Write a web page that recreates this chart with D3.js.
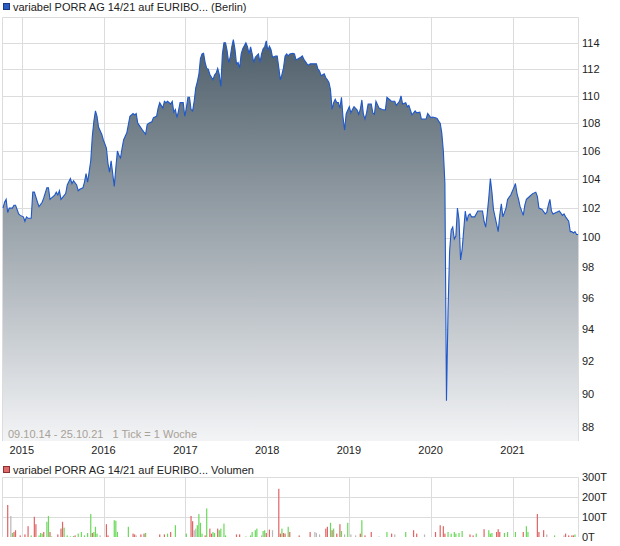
<!DOCTYPE html>
<html lang="de">
<head>
<meta charset="UTF-8">
<title>variabel PORR AG 14/21</title>
<style>
  html, body { margin: 0; background: #fff; }
  svg { display: block; font-family: "Liberation Sans", Arial, sans-serif; }
</style>
</head>
<body>
<svg id="chart" width="620" height="546"></svg>
<script src="https://cdn.jsdelivr.net/npm/d3@7"></script>
<script>
  // Zeitraum, 1 Tick = 1 Woche
  var startDate = new Date(2014, 9, 9)
  var endDate = new Date(2021, 9, 25)

  // [Woche seit Start, Kurs]
  var pricePts = [
    [0,102.0],[1,102.4],[2,102.6],[3,101.7],[4,102.0],[6,102.0],[7,102.2],[8,102.2],[9,101.9],[10,101.6],
    [11,101.5],[13,101.4],[14,101.1],[15,101.4],[16,101.3],[18,101.3],[19,103.1],[20,103.1],[22,102.4],[23,102.1],
    [25,102.4],[26,102.7],[28,103.4],[29,103.4],[30,102.6],[31,102.7],[33,102.9],[34,103.1],[35,102.9],[36,103.2],
    [37,102.6],[40,103.0],[41,103.6],[43,104.05],[44,103.7],[45,103.9],[47,103.6],[48,103.2],[49,103.3],[51,103.4],
    [52,103.8],[53,104.4],[54,103.8],[56,105.3],[57,107.05],[58,108.15],[59,108.9],[60,108.5],[61,107.7],[63,107.2],
    [64,106.8],[66,106.2],[67,105.1],[68,104.5],[69,105.3],[70,104.4],[71,103.5],[72,104.8],[73,106.0],[74,105.7],
    [75,105.5],[76,106.2],[77,106.8],[79,107.3],[80,107.9],[81,108.5],[83,108.7],[84,108.6],[85,108.7],[86,108.0],
    [89,107.5],[91,107.2],[92,107.9],[93,108.0],[95,108.1],[96,108.4],[98,108.5],[99,109.1],[100,109.5],[102,109.1],
    [103,109.6],[104,109.5],[105,109.6],[107,109.4],[108,109.6],[109,108.8],[110,109.0],[111,108.4],[112,108.9],[113,109.5],
    [115,109.5],[116,108.5],[117,109.1],[118,109.9],[119,109.9],[120,109.0],[121,108.9],[122,109.6],[123,110.6],[124,111.05],
    [125,111.6],[126,112.8],[127,113.15],[128,113.2],[129,112.5],[130,112.05],[131,112.0],[132,111.6],[134,111.2],[135,111.55],
    [136,111.7],[137,112.05],[138,111.6],[139,110.7],[140,113.15],[141,114.0],[142,114.0],[143,113.4],[144,112.5],[145,112.9],
    [146,113.7],[147,114.25],[148,113.55],[149,112.4],[150,112.5],[151,112.1],[152,113.15],[153,113.55],[155,114.0],[156,113.7],
    [157,113.15],[158,113.7],[159,113.15],[160,112.5],[161,112.9],[163,113.15],[164,112.5],[165,113.15],[166,113.55],[167,113.7],
    [168,114.15],[169,113.4],[170,113.75],[171,113.5],[172,112.9],[174,113.0],[175,113.0],[176,112.1],[177,111.2],[178,111.6],
    [179,112.1],[180,113.0],[181,113.15],[182,113.0],[183,113.15],[185,113.2],[186,113.15],[187,112.7],[190,112.9],[191,113.0],
    [192,112.75],[194,112.4],[195,112.3],[196,112.4],[197,112.4],[200,112.4],[201,112.0],[202,111.85],[203,111.5],[205,111.65],
    [206,111.35],[207,111.2],[208,111.0],[209,110.45],[210,109.0],[211,109.5],[212,109.75],[213,109.5],[214,109.5],[215,109.1],
    [216,109.9],[217,108.4],[218,107.5],[219,108.7],[221,109.2],[222,108.75],[223,109.0],[224,109.2],[226,108.95],[227,108.65],
    [228,109.0],[229,109.7],[230,108.65],[231,108.3],[232,108.75],[233,109.4],[235,109.4],[236,108.75],[237,108.65],[238,109.6],
    [240,109.1],[242,109.0],[244,108.95],[245,109.9],[247,109.7],[248,109.6],[250,109.6],[251,109.3],[253,109.6],[254,110.0],
    [255,109.4],[257,109.5],[258,109.2],[259,109.3],[260,108.95],[261,108.6],[263,108.9],[264,108.75],[266,108.8],[267,108.3],
    [270,108.3],[271,108.7],[273,108.4],[274,108.45],[276,108.4],[277,108.35],[278,108.15],[279,108.0],[280,107.3],[281,106.0],
    [282,103.7],[283,89.6],[284,95.2],[285,99.1],[286,100.5],[287,100.7],[288,99.9],[289,100.1],[290,102.0],[291,101.2],
    [292,98.5],[293,99.2],[294,100.5],[295,101.8],[296,101.1],[297,101.5],[298,101.6],[299,101.4],[301,101.4],[303,101.8],
    [306,101.8],[307,101.1],[308,100.7],[309,101.6],[310,102.7],[311,104.05],[312,103.1],[313,101.9],[315,100.9],[316,100.4],
    [317,101.5],[318,102.3],[319,101.4],[321,102.0],[322,102.6],[324,102.9],[326,103.4],[327,103.7],[328,103.0],[329,102.6],
    [330,102.1],[332,101.5],[333,102.2],[334,102.6],[336,102.8],[338,103.0],[340,103.1],[341,102.8],[342,102.0],[344,101.9],
    [346,101.6],[347,101.7],[348,102.2],[349,102.6],[350,101.8],[351,101.6],[353,101.7],[355,101.8],[357,101.5],[358,101.6],
    [359,101.4],[361,101.1],[362,100.4],[363,100.4],[364,100.3],[365,100.4],[366,100.2],[367,100.2]
  ]

  // [Woche, Volumen in T, Richtung u/d/n]
  var volumePts = [
    [3,160,'d'],[5,105,'n'],[6,20,'u'],[7,25,'d'],[8,34,'d'],[11,8,'d'],[14,13,'d'],[16,54,'d'],[18,8,'u'],[20,101,'d'],
    [21,64,'d'],[23,8,'u'],[24,20,'u'],[25,17,'u'],[26,25,'d'],[28,76,'u'],[29,105,'u'],[30,25,'d'],[31,3,'u'],[35,13,'d'],
    [37,42,'d'],[38,76,'d'],[39,47,'u'],[41,8,'u'],[43,3,'u'],[45,5,'u'],[46,8,'d'],[48,17,'u'],[50,25,'u'],[52,8,'u'],
    [54,20,'u'],[56,115,'u'],[57,20,'d'],[58,25,'u'],[59,51,'u'],[60,17,'u'],[62,8,'n'],[66,64,'d'],[67,8,'d'],[71,84,'u'],
    [72,81,'u'],[73,25,'u'],[80,51,'u'],[83,17,'d'],[84,13,'d'],[85,8,'n'],[88,13,'d'],[90,17,'d'],[91,20,'u'],[100,13,'d'],
    [103,13,'d'],[105,17,'u'],[107,25,'d'],[110,59,'u'],[117,17,'u'],[120,105,'d'],[121,79,'d'],[122,34,'n'],[123,42,'n'],[124,59,'u'],
    [125,115,'u'],[126,71,'u'],[127,17,'u'],[129,8,'d'],[130,143,'u'],[132,42,'d'],[133,17,'d'],[134,25,'u'],[135,20,'u'],[137,42,'d'],
    [138,34,'u'],[139,42,'u'],[141,67,'u'],[142,8,'u'],[149,13,'d'],[151,13,'d'],[155,3,'u'],[158,8,'u'],[159,25,'u'],[161,34,'u'],
    [162,42,'u'],[165,8,'n'],[166,30,'u'],[167,34,'u'],[168,20,'d'],[170,37,'d'],[172,34,'n'],[176,241,'d'],[177,17,'d'],[178,42,'u'],
    [179,20,'d'],[180,17,'d'],[182,51,'u'],[183,25,'d'],[189,8,'d'],[196,25,'d'],[199,25,'n'],[200,20,'n'],[202,13,'n'],[206,42,'d'],
    [207,51,'d'],[209,71,'u'],[210,34,'d'],[211,42,'u'],[213,17,'d'],[215,64,'d'],[216,30,'u'],[218,13,'n'],[220,71,'u'],[222,13,'n'],
    [225,8,'n'],[228,17,'d'],[229,84,'u'],[231,8,'d'],[235,25,'d'],[240,3,'n'],[245,25,'u'],[248,17,'d'],[250,13,'n'],[257,25,'u'],
    [262,34,'d'],[264,17,'d'],[269,13,'n'],[276,25,'d'],[279,59,'d'],[281,54,'d'],[282,17,'d'],[284,25,'u'],[286,17,'u'],[288,25,'u'],
    [289,17,'u'],[291,20,'u'],[293,30,'u'],[298,13,'d'],[300,8,'d'],[302,17,'u'],[307,39,'d'],[310,34,'u'],[311,17,'u'],[312,20,'u'],
    [315,25,'d'],[316,39,'d'],[317,25,'d'],[320,20,'u'],[322,25,'u'],[327,25,'u'],[332,25,'d'],[334,54,'u'],[335,25,'u'],[341,115,'d'],
    [342,25,'d'],[345,34,'d'],[347,13,'n'],[352,8,'u'],[358,8,'n'],[359,17,'d'],[361,8,'d'],[363,8,'d'],[364,8,'d'],[365,13,'u']
  ]

  var priceTicks = [88, 90, 92, 94, 96, 98, 100, 102, 104, 106, 108, 110, 112, 114]
  var yearTicks = [2015, 2016, 2017, 2018, 2019, 2020, 2021]
  var volumeTicks = [0, 100, 200, 300]

  var title = 'variabel PORR AG 14/21 auf EURIBO... (Berlin)'
  var volTitle = 'variabel PORR AG 14/21 auf EURIBO... Volumen'
  var rangeText = '09.10.14 - 25.10.21   1 Tick = 1 Woche'

  function weekDate(w) {
    return d3.timeDay.offset(startDate, w * 7)
  }

  var svg = d3.select('#chart')
  var plotLeft = 3, plotRight = 579
  var plotTop = 17, plotBottom = 441
  var volTop = 477, volBottom = 537

  var x = d3.scaleTime().domain([startDate, endDate]).range([plotLeft, plotRight])
  var y = d3.scaleLog().domain([87.2, 116]).range([plotBottom, plotTop])
  var yv = d3.scaleLinear().domain([0, 300]).range([volBottom, volTop])

  var grid = '#dcdcdc'

  // Gitter Kurs
  var g = svg.append('g')
  g.selectAll('.hgrid').data(priceTicks).join('line')
    .attr('x1', 2.5).attr('x2', 578.5)
    .attr('y1', d => Math.round(y(d)) + 0.5).attr('y2', d => Math.round(y(d)) + 0.5)
    .attr('stroke', grid)
  g.selectAll('.vgrid').data(yearTicks).join('line')
    .attr('x1', d => Math.round(x(new Date(d, 0, 1))) + 0.5)
    .attr('x2', d => Math.round(x(new Date(d, 0, 1))) + 0.5)
    .attr('y1', plotTop).attr('y2', plotBottom)
    .attr('stroke', grid)
  g.append('path')
    .attr('d', `M2.5,${plotBottom}V${plotTop + 0.5}H578.5V${plotBottom}`)
    .attr('fill', 'none').attr('stroke', grid)

  // Verlauf
  var grad = svg.append('defs').append('linearGradient')
    .attr('id', 'fill').attr('gradientUnits', 'userSpaceOnUse')
    .attr('x1', 0).attr('x2', 0).attr('y1', 30).attr('y2', plotBottom)
  grad.append('stop').attr('offset', 0).attr('stop-color', '#4a5b67')
  grad.append('stop').attr('offset', 1).attr('stop-color', '#f3f4f6')

  var area = d3.area()
    .x(d => x(weekDate(d[0])))
    .y0(plotBottom)
    .y1(d => y(d[1]))
  svg.append('path').datum(pricePts)
    .attr('d', area)
    .attr('fill', 'url(#fill)')

  var line = d3.line()
    .x(d => x(weekDate(d[0])))
    .y(d => y(d[1]))
  svg.append('path').datum(pricePts)
    .attr('d', line)
    .attr('fill', 'none')
    .attr('stroke', '#1f58c8')
    .attr('stroke-width', 1.1)

  // Achsenbeschriftung
  svg.append('g').attr('font-size', 11).attr('fill', '#222')
    .selectAll('text').data(priceTicks).join('text')
    .attr('x', 582).attr('y', d => y(d)).attr('dy', '0.35em')
    .text(d => d)

  svg.append('g').attr('font-size', 11).attr('fill', '#222')
    .selectAll('text').data(yearTicks).join('text')
    .attr('x', d => x(new Date(d, 0, 1))).attr('y', 453.5)
    .attr('text-anchor', 'middle')
    .text(d => d)

  svg.append('text').attr('x', 8).attr('y', 438)
    .attr('font-size', 11).attr('fill', '#a8a196')
    .attr('xml:space', 'preserve')
    .text(rangeText)

  // Legenden
  svg.append('rect').attr('x', 3.5).attr('y', 3.5).attr('width', 6).attr('height', 6)
    .attr('fill', '#2a5cc4').attr('stroke', '#1a3a80')
  svg.append('text').attr('x', 13).attr('y', 10.5).attr('font-size', 11).attr('fill', '#222').text(title)

  svg.append('rect').attr('x', 3.5).attr('y', 466.5).attr('width', 6).attr('height', 6)
    .attr('fill', '#e06a6a').attr('stroke', '#8a3030')
  svg.append('text').attr('x', 13).attr('y', 473.5).attr('font-size', 11).attr('fill', '#222').text(volTitle)

  // Volumen
  var vg = svg.append('g')
  vg.selectAll('.hgrid').data(volumeTicks.slice(1)).join('line')
    .attr('x1', 2.5).attr('x2', 578.5)
    .attr('y1', d => Math.round(yv(d)) + 0.5).attr('y2', d => Math.round(yv(d)) + 0.5)
    .attr('stroke', grid)
  vg.selectAll('.vgrid').data(yearTicks).join('line')
    .attr('x1', d => Math.round(x(new Date(d, 0, 1))) + 0.5)
    .attr('x2', d => Math.round(x(new Date(d, 0, 1))) + 0.5)
    .attr('y1', volTop).attr('y2', volBottom)
    .attr('stroke', grid)
  vg.append('path')
    .attr('d', `M2.5,${volBottom}V${volTop + 0.5}H578.5V${volBottom}`)
    .attr('fill', 'none').attr('stroke', grid)

  var volColor = { u: '#6ad95a', d: '#e06464', n: '#b8b8b8' }
  vg.selectAll('rect').data(volumePts).join('rect')
    .attr('x', d => x(weekDate(d[0])) - 0.6)
    .attr('width', 1.2)
    .attr('y', d => yv(d[1]))
    .attr('height', d => volBottom - yv(d[1]))
    .attr('fill', d => volColor[d[2]])

  svg.append('g').attr('font-size', 11).attr('fill', '#222')
    .selectAll('text').data(volumeTicks).join('text')
    .attr('x', 582).attr('y', d => yv(d)).attr('dy', '0.35em')
    .text(d => d + 'T')
</script>
</body>
</html>
